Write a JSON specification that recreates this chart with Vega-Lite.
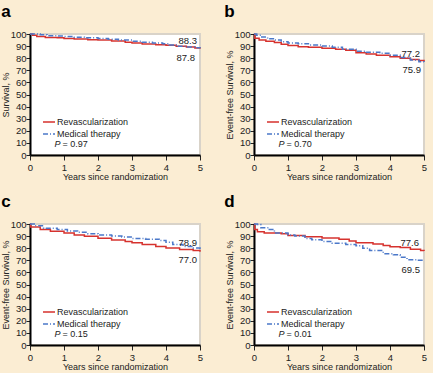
{
  "$schema": "https://vega.github.io/schema/vega-lite/v6.json",
  "background": "#fbedd3",
  "padding": {"left": 0, "top": 2, "right": 5, "bottom": 0},
  "config": {
    "font": "Liberation Sans",
    "view": {"fill": "white", "stroke": "#d9d3c9", "strokeWidth": 2},
    "axis": {"domainColor": "black", "domainWidth": 2, "tickColor": "#222", "tickWidth": 1, "grid": false, "labelFontSize": 9.5, "labelColor": "#222", "titleFontSize": 9, "titleFontWeight": "normal", "titleColor": "#222", "labelOverlap": false, "labelFlush": false, "labelBound": false},
    "legend": {"orient": "none", "legendX": 12, "legendY": 81, "symbolType": "stroke", "symbolSize": 144, "symbolStrokeWidth": 1.6, "labelFontSize": 9, "labelColor": "#222", "rowPadding": -1, "labelOffset": 1, "padding": 0},
    "title": {"anchor": "start", "frame": "bounds", "fontSize": 17, "fontWeight": "bold", "offset": 8, "color": "black"}
  },
  "datasets": {
    "curves": [
      {"panel": "a", "group": "Revascularization", "t": 0, "s": 100},
      {"panel": "a", "group": "Revascularization", "t": 0.08, "s": 99},
      {"panel": "a", "group": "Revascularization", "t": 0.2, "s": 98},
      {"panel": "a", "group": "Revascularization", "t": 0.45, "s": 97.2},
      {"panel": "a", "group": "Revascularization", "t": 0.8, "s": 96.8},
      {"panel": "a", "group": "Revascularization", "t": 1.0, "s": 96.2},
      {"panel": "a", "group": "Revascularization", "t": 1.3, "s": 95.8},
      {"panel": "a", "group": "Revascularization", "t": 1.7, "s": 95.3},
      {"panel": "a", "group": "Revascularization", "t": 2.0, "s": 95.0},
      {"panel": "a", "group": "Revascularization", "t": 2.4, "s": 94.2},
      {"panel": "a", "group": "Revascularization", "t": 2.8, "s": 93.2},
      {"panel": "a", "group": "Revascularization", "t": 3.0, "s": 92.6},
      {"panel": "a", "group": "Revascularization", "t": 3.3, "s": 91.8},
      {"panel": "a", "group": "Revascularization", "t": 3.7, "s": 91.2},
      {"panel": "a", "group": "Revascularization", "t": 4.0, "s": 90.6},
      {"panel": "a", "group": "Revascularization", "t": 4.3, "s": 89.8},
      {"panel": "a", "group": "Revascularization", "t": 4.6, "s": 89.2},
      {"panel": "a", "group": "Revascularization", "t": 4.85, "s": 88.5},
      {"panel": "a", "group": "Revascularization", "t": 5, "s": 87.8},
      {"panel": "a", "group": "Medical therapy", "t": 0, "s": 100},
      {"panel": "a", "group": "Medical therapy", "t": 0.3, "s": 99.3},
      {"panel": "a", "group": "Medical therapy", "t": 0.5, "s": 98.6},
      {"panel": "a", "group": "Medical therapy", "t": 0.8, "s": 98.3},
      {"panel": "a", "group": "Medical therapy", "t": 1.0, "s": 98.0},
      {"panel": "a", "group": "Medical therapy", "t": 1.3, "s": 97.3},
      {"panel": "a", "group": "Medical therapy", "t": 1.6, "s": 96.8},
      {"panel": "a", "group": "Medical therapy", "t": 2.0, "s": 96.3},
      {"panel": "a", "group": "Medical therapy", "t": 2.3, "s": 95.6},
      {"panel": "a", "group": "Medical therapy", "t": 2.6, "s": 95.0},
      {"panel": "a", "group": "Medical therapy", "t": 3.0, "s": 94.0},
      {"panel": "a", "group": "Medical therapy", "t": 3.3, "s": 93.2},
      {"panel": "a", "group": "Medical therapy", "t": 3.6, "s": 92.6},
      {"panel": "a", "group": "Medical therapy", "t": 3.9, "s": 92.0},
      {"panel": "a", "group": "Medical therapy", "t": 4.1, "s": 91.0},
      {"panel": "a", "group": "Medical therapy", "t": 4.3, "s": 89.8},
      {"panel": "a", "group": "Medical therapy", "t": 4.6, "s": 89.2},
      {"panel": "a", "group": "Medical therapy", "t": 4.85, "s": 88.7},
      {"panel": "a", "group": "Medical therapy", "t": 5, "s": 88.3},
      {"panel": "b", "group": "Revascularization", "t": 0, "s": 100},
      {"panel": "b", "group": "Revascularization", "t": 0.02, "s": 96.5},
      {"panel": "b", "group": "Revascularization", "t": 0.15, "s": 95},
      {"panel": "b", "group": "Revascularization", "t": 0.35, "s": 94},
      {"panel": "b", "group": "Revascularization", "t": 0.6, "s": 93},
      {"panel": "b", "group": "Revascularization", "t": 0.8, "s": 91.5},
      {"panel": "b", "group": "Revascularization", "t": 1.0, "s": 90.5},
      {"panel": "b", "group": "Revascularization", "t": 1.3, "s": 89.5},
      {"panel": "b", "group": "Revascularization", "t": 1.6, "s": 89},
      {"panel": "b", "group": "Revascularization", "t": 2.0, "s": 88.3},
      {"panel": "b", "group": "Revascularization", "t": 2.4, "s": 87.3},
      {"panel": "b", "group": "Revascularization", "t": 2.7, "s": 86.5},
      {"panel": "b", "group": "Revascularization", "t": 3.0, "s": 84.5},
      {"panel": "b", "group": "Revascularization", "t": 3.3, "s": 83.5},
      {"panel": "b", "group": "Revascularization", "t": 3.6, "s": 82.5},
      {"panel": "b", "group": "Revascularization", "t": 4.0, "s": 81.2},
      {"panel": "b", "group": "Revascularization", "t": 4.3, "s": 80},
      {"panel": "b", "group": "Revascularization", "t": 4.6, "s": 79},
      {"panel": "b", "group": "Revascularization", "t": 4.85, "s": 78},
      {"panel": "b", "group": "Revascularization", "t": 5, "s": 77.2},
      {"panel": "b", "group": "Medical therapy", "t": 0, "s": 100},
      {"panel": "b", "group": "Medical therapy", "t": 0.08, "s": 99},
      {"panel": "b", "group": "Medical therapy", "t": 0.2, "s": 97.5},
      {"panel": "b", "group": "Medical therapy", "t": 0.4, "s": 96},
      {"panel": "b", "group": "Medical therapy", "t": 0.6, "s": 95},
      {"panel": "b", "group": "Medical therapy", "t": 0.8, "s": 93.5},
      {"panel": "b", "group": "Medical therapy", "t": 1.0, "s": 92.5},
      {"panel": "b", "group": "Medical therapy", "t": 1.3, "s": 92},
      {"panel": "b", "group": "Medical therapy", "t": 1.6, "s": 91},
      {"panel": "b", "group": "Medical therapy", "t": 2.0, "s": 90},
      {"panel": "b", "group": "Medical therapy", "t": 2.3, "s": 89},
      {"panel": "b", "group": "Medical therapy", "t": 2.6, "s": 87.5},
      {"panel": "b", "group": "Medical therapy", "t": 3.0, "s": 85.8},
      {"panel": "b", "group": "Medical therapy", "t": 3.3, "s": 85},
      {"panel": "b", "group": "Medical therapy", "t": 3.7, "s": 84},
      {"panel": "b", "group": "Medical therapy", "t": 4.0, "s": 82.5},
      {"panel": "b", "group": "Medical therapy", "t": 4.3, "s": 80.5},
      {"panel": "b", "group": "Medical therapy", "t": 4.6, "s": 78.5},
      {"panel": "b", "group": "Medical therapy", "t": 4.85, "s": 77},
      {"panel": "b", "group": "Medical therapy", "t": 5, "s": 75.9},
      {"panel": "c", "group": "Revascularization", "t": 0, "s": 100},
      {"panel": "c", "group": "Revascularization", "t": 0.02, "s": 97.5},
      {"panel": "c", "group": "Revascularization", "t": 0.3, "s": 95.5},
      {"panel": "c", "group": "Revascularization", "t": 0.6, "s": 94},
      {"panel": "c", "group": "Revascularization", "t": 1.0, "s": 92.5},
      {"panel": "c", "group": "Revascularization", "t": 1.3, "s": 91},
      {"panel": "c", "group": "Revascularization", "t": 1.6, "s": 89.8},
      {"panel": "c", "group": "Revascularization", "t": 2.0, "s": 88.3},
      {"panel": "c", "group": "Revascularization", "t": 2.4, "s": 86.8},
      {"panel": "c", "group": "Revascularization", "t": 2.8, "s": 85.5},
      {"panel": "c", "group": "Revascularization", "t": 3.0, "s": 84.5},
      {"panel": "c", "group": "Revascularization", "t": 3.3, "s": 83},
      {"panel": "c", "group": "Revascularization", "t": 3.7, "s": 81.5},
      {"panel": "c", "group": "Revascularization", "t": 4.0, "s": 80.2},
      {"panel": "c", "group": "Revascularization", "t": 4.4, "s": 79},
      {"panel": "c", "group": "Revascularization", "t": 4.8, "s": 78},
      {"panel": "c", "group": "Revascularization", "t": 5, "s": 77.0},
      {"panel": "c", "group": "Medical therapy", "t": 0, "s": 100},
      {"panel": "c", "group": "Medical therapy", "t": 0.15, "s": 98.5},
      {"panel": "c", "group": "Medical therapy", "t": 0.4, "s": 96.5},
      {"panel": "c", "group": "Medical therapy", "t": 0.8, "s": 95.5},
      {"panel": "c", "group": "Medical therapy", "t": 1.1, "s": 94.3},
      {"panel": "c", "group": "Medical therapy", "t": 1.4, "s": 93.2},
      {"panel": "c", "group": "Medical therapy", "t": 1.7, "s": 92},
      {"panel": "c", "group": "Medical therapy", "t": 2.0, "s": 91},
      {"panel": "c", "group": "Medical therapy", "t": 2.4, "s": 90},
      {"panel": "c", "group": "Medical therapy", "t": 2.7, "s": 89.2},
      {"panel": "c", "group": "Medical therapy", "t": 3.0, "s": 88},
      {"panel": "c", "group": "Medical therapy", "t": 3.4, "s": 87.5},
      {"panel": "c", "group": "Medical therapy", "t": 3.8, "s": 86.3},
      {"panel": "c", "group": "Medical therapy", "t": 4.0, "s": 85},
      {"panel": "c", "group": "Medical therapy", "t": 4.2, "s": 83},
      {"panel": "c", "group": "Medical therapy", "t": 4.5, "s": 81.5},
      {"panel": "c", "group": "Medical therapy", "t": 4.8, "s": 80.2},
      {"panel": "c", "group": "Medical therapy", "t": 5, "s": 78.9},
      {"panel": "d", "group": "Revascularization", "t": 0, "s": 100},
      {"panel": "d", "group": "Revascularization", "t": 0.02, "s": 95.5},
      {"panel": "d", "group": "Revascularization", "t": 0.1, "s": 93.5},
      {"panel": "d", "group": "Revascularization", "t": 0.3, "s": 92.5},
      {"panel": "d", "group": "Revascularization", "t": 0.8, "s": 92},
      {"panel": "d", "group": "Revascularization", "t": 1.0, "s": 90.5},
      {"panel": "d", "group": "Revascularization", "t": 1.5, "s": 89.5},
      {"panel": "d", "group": "Revascularization", "t": 2.0, "s": 88.5},
      {"panel": "d", "group": "Revascularization", "t": 2.5, "s": 87.3},
      {"panel": "d", "group": "Revascularization", "t": 2.8, "s": 86},
      {"panel": "d", "group": "Revascularization", "t": 3.0, "s": 84.5},
      {"panel": "d", "group": "Revascularization", "t": 3.5, "s": 83.5},
      {"panel": "d", "group": "Revascularization", "t": 3.8, "s": 82.2},
      {"panel": "d", "group": "Revascularization", "t": 4.0, "s": 81.2},
      {"panel": "d", "group": "Revascularization", "t": 4.3, "s": 80.5},
      {"panel": "d", "group": "Revascularization", "t": 4.6, "s": 79.2},
      {"panel": "d", "group": "Revascularization", "t": 4.9, "s": 78.2},
      {"panel": "d", "group": "Revascularization", "t": 5, "s": 77.6},
      {"panel": "d", "group": "Medical therapy", "t": 0, "s": 100},
      {"panel": "d", "group": "Medical therapy", "t": 0.1, "s": 99.5},
      {"panel": "d", "group": "Medical therapy", "t": 0.2, "s": 97},
      {"panel": "d", "group": "Medical therapy", "t": 0.45, "s": 95.5},
      {"panel": "d", "group": "Medical therapy", "t": 0.6, "s": 92.5},
      {"panel": "d", "group": "Medical therapy", "t": 1.0, "s": 91},
      {"panel": "d", "group": "Medical therapy", "t": 1.2, "s": 90},
      {"panel": "d", "group": "Medical therapy", "t": 1.5, "s": 88},
      {"panel": "d", "group": "Medical therapy", "t": 1.7, "s": 87},
      {"panel": "d", "group": "Medical therapy", "t": 2.0, "s": 85.5},
      {"panel": "d", "group": "Medical therapy", "t": 2.3, "s": 84},
      {"panel": "d", "group": "Medical therapy", "t": 2.7, "s": 83},
      {"panel": "d", "group": "Medical therapy", "t": 3.0, "s": 82},
      {"panel": "d", "group": "Medical therapy", "t": 3.2, "s": 80},
      {"panel": "d", "group": "Medical therapy", "t": 3.4, "s": 78},
      {"panel": "d", "group": "Medical therapy", "t": 3.8, "s": 75.5},
      {"panel": "d", "group": "Medical therapy", "t": 4.1, "s": 74.5},
      {"panel": "d", "group": "Medical therapy", "t": 4.3, "s": 72.5},
      {"panel": "d", "group": "Medical therapy", "t": 4.5, "s": 70.5},
      {"panel": "d", "group": "Medical therapy", "t": 4.8, "s": 70},
      {"panel": "d", "group": "Medical therapy", "t": 5, "s": 69.5}
    ],
    "pvals": [
      {"panel": "a", "p": "= 0.97"},
      {"panel": "b", "p": "= 0.70"},
      {"panel": "c", "p": "= 0.15"},
      {"panel": "d", "p": "= 0.01"}
    ]
  },
  "columns": 2,
  "spacing": {"row": 69, "column": 54},
  "bounds": "flush",
  "resolve": {"legend": {"color": "independent", "strokeDash": "independent"}},
  "concat": [
    {
      "title": {"text": "a", "dx": 0},
      "width": 170, "height": 121,
      "layer": [
        {
          "data": {"name": "curves"},
          "transform": [{"filter": "datum.panel === 'a'"}],
          "mark": {"type": "line", "interpolate": "step-after", "strokeWidth": 1.5},
          "encoding": {
            "x": {"field": "t", "type": "quantitative", "scale": {"domain": [0, 5]}, "axis": {"title": "Years since randomization", "values": [0, 1, 2, 3, 4, 5], "tickCount": 6, "tickSize": 5, "labelPadding": 2, "titlePadding": 1}},
            "y": {"field": "s", "type": "quantitative", "scale": {"domain": [0, 100]}, "axis": {"title": "Survival, %", "values": [0, 10, 20, 30, 40, 50, 60, 70, 80, 90, 100], "tickCount": 11, "tickSize": 4, "labelPadding": 0, "titlePadding": 0}},
            "color": {"field": "group", "type": "nominal", "title": null, "scale": {"domain": ["Revascularization", "Medical therapy"], "range": ["#d6322e", "#4b78c9"]}},
            "strokeDash": {"field": "group", "type": "nominal", "title": null, "scale": {"domain": ["Revascularization", "Medical therapy"], "range": [[1, 0], [5, 2, 1, 2]]}}
          }
        },
        {
          "data": {"name": "curves"},
          "transform": [{"filter": "datum.panel === 'a' && datum.t === 5"}, {"joinaggregate": [{"op": "max", "field": "s", "as": "mx"}]}, {"filter": "datum.s === datum.mx"}],
          "mark": {"type": "text", "align": "right", "baseline": "alphabetic", "dx": -3, "dy": -4, "fontSize": 9.5, "color": "#222"},
          "encoding": {"x": {"field": "t", "type": "quantitative"}, "y": {"field": "s", "type": "quantitative"}, "text": {"field": "s", "type": "quantitative", "format": ".1f"}}
        },
        {
          "data": {"name": "curves"},
          "transform": [{"filter": "datum.panel === 'a' && datum.t === 5"}, {"joinaggregate": [{"op": "max", "field": "s", "as": "mx"}]}, {"filter": "datum.s !== datum.mx"}],
          "mark": {"type": "text", "align": "right", "baseline": "top", "dx": -5, "dy": 4, "fontSize": 9.5, "color": "#222"},
          "encoding": {"x": {"field": "t", "type": "quantitative"}, "y": {"field": "s", "type": "quantitative"}, "text": {"field": "s", "type": "quantitative", "format": ".1f"}}
        },
        {
          "data": {"name": "pvals"},
          "transform": [{"filter": "datum.panel === 'a'"}],
          "mark": {"type": "text", "align": "left", "fontSize": 9, "fontStyle": "italic", "color": "#222"},
          "encoding": {"x": {"datum": 0.72}, "y": {"datum": 9}, "text": {"value": "P"}}
        },
        {
          "data": {"name": "pvals"},
          "transform": [{"filter": "datum.panel === 'a'"}],
          "mark": {"type": "text", "align": "left", "fontSize": 9, "dx": 8, "color": "#222"},
          "encoding": {"x": {"datum": 0.72}, "y": {"datum": 9}, "text": {"field": "p"}}
        }
      ]
    },
    {
      "title": {"text": "b", "dx": -1},
      "width": 170, "height": 121,
      "layer": [
        {
          "data": {"name": "curves"},
          "transform": [{"filter": "datum.panel === 'b'"}],
          "mark": {"type": "line", "interpolate": "step-after", "strokeWidth": 1.5},
          "encoding": {
            "x": {"field": "t", "type": "quantitative", "scale": {"domain": [0, 5]}, "axis": {"title": "Years since randomization", "values": [0, 1, 2, 3, 4, 5], "tickCount": 6, "tickSize": 5, "labelPadding": 2, "titlePadding": 1}},
            "y": {"field": "s", "type": "quantitative", "scale": {"domain": [0, 100]}, "axis": {"title": "Event-free Survival, %", "values": [0, 10, 20, 30, 40, 50, 60, 70, 80, 90, 100], "tickCount": 11, "tickSize": 4, "labelPadding": 0, "titlePadding": 0}},
            "color": {"field": "group", "type": "nominal", "title": null, "scale": {"domain": ["Revascularization", "Medical therapy"], "range": ["#d6322e", "#4b78c9"]}},
            "strokeDash": {"field": "group", "type": "nominal", "title": null, "scale": {"domain": ["Revascularization", "Medical therapy"], "range": [[1, 0], [5, 2, 1, 2]]}}
          }
        },
        {
          "data": {"name": "curves"},
          "transform": [{"filter": "datum.panel === 'b' && datum.t === 5"}, {"joinaggregate": [{"op": "max", "field": "s", "as": "mx"}]}, {"filter": "datum.s === datum.mx"}],
          "mark": {"type": "text", "align": "right", "baseline": "alphabetic", "dx": -4, "dy": -5, "fontSize": 9.5, "color": "#222"},
          "encoding": {"x": {"field": "t", "type": "quantitative"}, "y": {"field": "s", "type": "quantitative"}, "text": {"field": "s", "type": "quantitative", "format": ".1f"}}
        },
        {
          "data": {"name": "curves"},
          "transform": [{"filter": "datum.panel === 'b' && datum.t === 5"}, {"joinaggregate": [{"op": "max", "field": "s", "as": "mx"}]}, {"filter": "datum.s !== datum.mx"}],
          "mark": {"type": "text", "align": "right", "baseline": "top", "dx": -3, "dy": 2, "fontSize": 9.5, "color": "#222"},
          "encoding": {"x": {"field": "t", "type": "quantitative"}, "y": {"field": "s", "type": "quantitative"}, "text": {"field": "s", "type": "quantitative", "format": ".1f"}}
        },
        {
          "data": {"name": "pvals"},
          "transform": [{"filter": "datum.panel === 'b'"}],
          "mark": {"type": "text", "align": "left", "fontSize": 9, "fontStyle": "italic", "color": "#222"},
          "encoding": {"x": {"datum": 0.72}, "y": {"datum": 9}, "text": {"value": "P"}}
        },
        {
          "data": {"name": "pvals"},
          "transform": [{"filter": "datum.panel === 'b'"}],
          "mark": {"type": "text", "align": "left", "fontSize": 9, "dx": 8, "color": "#222"},
          "encoding": {"x": {"datum": 0.72}, "y": {"datum": 9}, "text": {"field": "p"}}
        }
      ]
    },
    {
      "title": {"text": "c", "dx": 0},
      "width": 170, "height": 121,
      "layer": [
        {
          "data": {"name": "curves"},
          "transform": [{"filter": "datum.panel === 'c'"}],
          "mark": {"type": "line", "interpolate": "step-after", "strokeWidth": 1.5},
          "encoding": {
            "x": {"field": "t", "type": "quantitative", "scale": {"domain": [0, 5]}, "axis": {"title": "Years since randomization", "values": [0, 1, 2, 3, 4, 5], "tickCount": 6, "tickSize": 5, "labelPadding": 2, "titlePadding": 1}},
            "y": {"field": "s", "type": "quantitative", "scale": {"domain": [0, 100]}, "axis": {"title": "Event-free Survival, %", "values": [0, 10, 20, 30, 40, 50, 60, 70, 80, 90, 100], "tickCount": 11, "tickSize": 4, "labelPadding": 0, "titlePadding": 0}},
            "color": {"field": "group", "type": "nominal", "title": null, "scale": {"domain": ["Revascularization", "Medical therapy"], "range": ["#d6322e", "#4b78c9"]}},
            "strokeDash": {"field": "group", "type": "nominal", "title": null, "scale": {"domain": ["Revascularization", "Medical therapy"], "range": [[1, 0], [5, 2, 1, 2]]}}
          }
        },
        {
          "data": {"name": "curves"},
          "transform": [{"filter": "datum.panel === 'c' && datum.t === 5"}, {"joinaggregate": [{"op": "max", "field": "s", "as": "mx"}]}, {"filter": "datum.s === datum.mx"}],
          "mark": {"type": "text", "align": "right", "baseline": "alphabetic", "dx": -3, "dy": -4, "fontSize": 9.5, "color": "#222"},
          "encoding": {"x": {"field": "t", "type": "quantitative"}, "y": {"field": "s", "type": "quantitative"}, "text": {"field": "s", "type": "quantitative", "format": ".1f"}}
        },
        {
          "data": {"name": "curves"},
          "transform": [{"filter": "datum.panel === 'c' && datum.t === 5"}, {"joinaggregate": [{"op": "max", "field": "s", "as": "mx"}]}, {"filter": "datum.s !== datum.mx"}],
          "mark": {"type": "text", "align": "right", "baseline": "top", "dx": -3, "dy": 3, "fontSize": 9.5, "color": "#222"},
          "encoding": {"x": {"field": "t", "type": "quantitative"}, "y": {"field": "s", "type": "quantitative"}, "text": {"field": "s", "type": "quantitative", "format": ".1f"}}
        },
        {
          "data": {"name": "pvals"},
          "transform": [{"filter": "datum.panel === 'c'"}],
          "mark": {"type": "text", "align": "left", "fontSize": 9, "fontStyle": "italic", "color": "#222"},
          "encoding": {"x": {"datum": 0.72}, "y": {"datum": 9}, "text": {"value": "P"}}
        },
        {
          "data": {"name": "pvals"},
          "transform": [{"filter": "datum.panel === 'c'"}],
          "mark": {"type": "text", "align": "left", "fontSize": 9, "dx": 8, "color": "#222"},
          "encoding": {"x": {"datum": 0.72}, "y": {"datum": 9}, "text": {"field": "p"}}
        }
      ]
    },
    {
      "title": {"text": "d", "dx": -1},
      "width": 170, "height": 121,
      "layer": [
        {
          "data": {"name": "curves"},
          "transform": [{"filter": "datum.panel === 'd'"}],
          "mark": {"type": "line", "interpolate": "step-after", "strokeWidth": 1.5},
          "encoding": {
            "x": {"field": "t", "type": "quantitative", "scale": {"domain": [0, 5]}, "axis": {"title": "Years since randomization", "values": [0, 1, 2, 3, 4, 5], "tickCount": 6, "tickSize": 5, "labelPadding": 2, "titlePadding": 1}},
            "y": {"field": "s", "type": "quantitative", "scale": {"domain": [0, 100]}, "axis": {"title": "Event-free Survival, %", "values": [0, 10, 20, 30, 40, 50, 60, 70, 80, 90, 100], "tickCount": 11, "tickSize": 4, "labelPadding": 0, "titlePadding": 0}},
            "color": {"field": "group", "type": "nominal", "title": null, "scale": {"domain": ["Revascularization", "Medical therapy"], "range": ["#d6322e", "#4b78c9"]}},
            "strokeDash": {"field": "group", "type": "nominal", "title": null, "scale": {"domain": ["Revascularization", "Medical therapy"], "range": [[1, 0], [5, 2, 1, 2]]}}
          }
        },
        {
          "data": {"name": "curves"},
          "transform": [{"filter": "datum.panel === 'd' && datum.t === 5"}, {"joinaggregate": [{"op": "max", "field": "s", "as": "mx"}]}, {"filter": "datum.s === datum.mx"}],
          "mark": {"type": "text", "align": "right", "baseline": "alphabetic", "dx": -5, "dy": -5, "fontSize": 9.5, "color": "#222"},
          "encoding": {"x": {"field": "t", "type": "quantitative"}, "y": {"field": "s", "type": "quantitative"}, "text": {"field": "s", "type": "quantitative", "format": ".1f"}}
        },
        {
          "data": {"name": "curves"},
          "transform": [{"filter": "datum.panel === 'd' && datum.t === 5"}, {"joinaggregate": [{"op": "max", "field": "s", "as": "mx"}]}, {"filter": "datum.s !== datum.mx"}],
          "mark": {"type": "text", "align": "right", "baseline": "top", "dx": -4, "dy": 4, "fontSize": 9.5, "color": "#222"},
          "encoding": {"x": {"field": "t", "type": "quantitative"}, "y": {"field": "s", "type": "quantitative"}, "text": {"field": "s", "type": "quantitative", "format": ".1f"}}
        },
        {
          "data": {"name": "pvals"},
          "transform": [{"filter": "datum.panel === 'd'"}],
          "mark": {"type": "text", "align": "left", "fontSize": 9, "fontStyle": "italic", "color": "#222"},
          "encoding": {"x": {"datum": 0.72}, "y": {"datum": 9}, "text": {"value": "P"}}
        },
        {
          "data": {"name": "pvals"},
          "transform": [{"filter": "datum.panel === 'd'"}],
          "mark": {"type": "text", "align": "left", "fontSize": 9, "dx": 8, "color": "#222"},
          "encoding": {"x": {"datum": 0.72}, "y": {"datum": 9}, "text": {"field": "p"}}
        }
      ]
    }
  ]
}
